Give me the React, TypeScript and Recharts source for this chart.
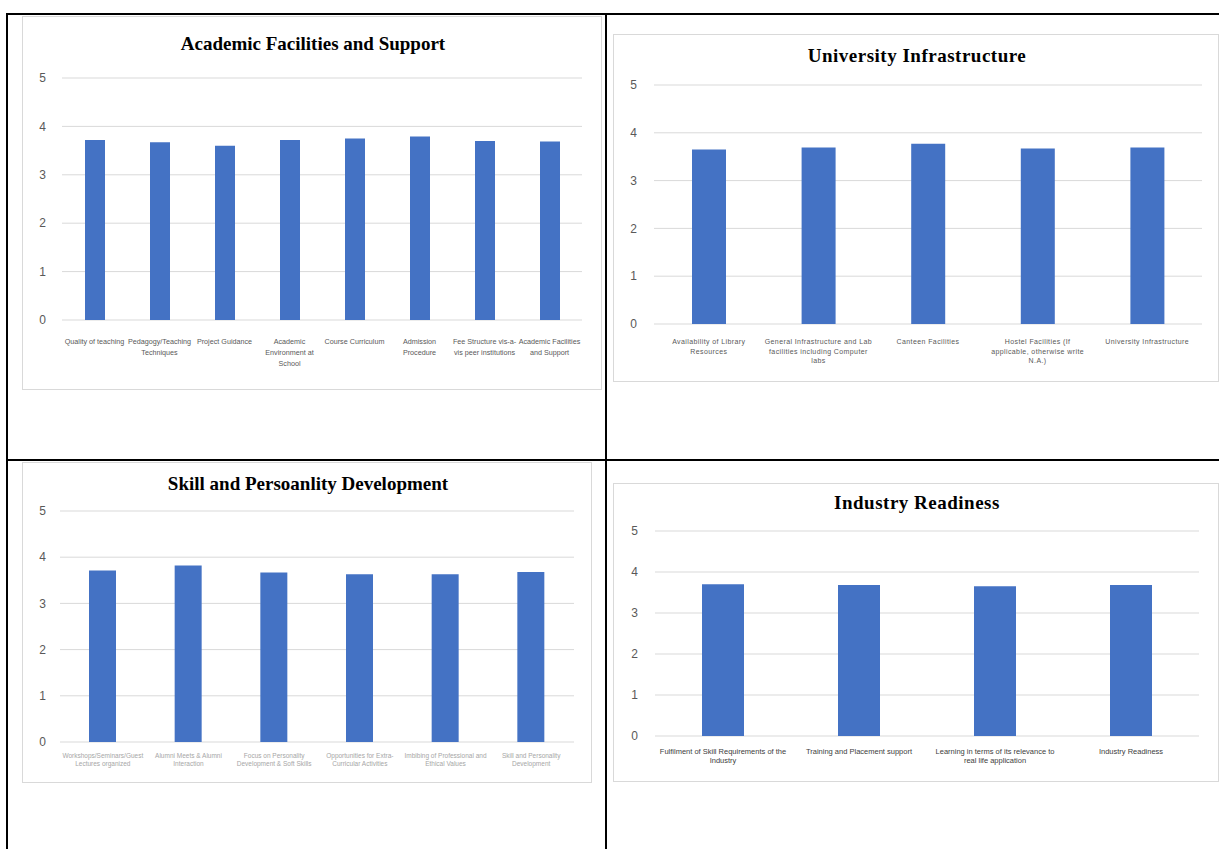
import React from 'react';
import { BarChart, Bar, XAxis, YAxis, CartesianGrid } from 'recharts';

// Academic Facilities and Support
const academicLabels = [
  'Quality of teaching',
  'Pedagogy/Teaching\nTechniques',
  'Project Guidance',
  'Academic\nEnvironment at\nSchool',
  'Course Curriculum',
  'Admission\nProcedure',
  'Fee Structure vis-a-\nvis peer institutions',
  'Academic Facilities\nand Support',
];
const academicValues = [3.72, 3.67, 3.6, 3.72, 3.75, 3.79, 3.7, 3.69];

// University Infrastructure
const infraLabels = [
  'Availability of Library\nResources',
  'General Infrastructure and Lab\nfacilities including Computer\nlabs',
  'Canteen Facilities',
  'Hostel Facilities (If\napplicable, otherwise write\nN.A.)',
  'University Infrastructure',
];
const infraValues = [3.65, 3.69, 3.77, 3.67, 3.69];

// Skill and Persoanlity Development
const skillLabels = [
  'Workshops/Seminars/Guest\nLectures organized',
  'Alumni Meets & Alumni\nInteraction',
  'Focus on Personality\nDevelopment & Soft Skills',
  'Opportunities for Extra-\nCurricular Activities',
  'Imbibing of Professional and\nEthical Values',
  'Skill and Personality\nDevelopment',
];
const skillValues = [3.71, 3.82, 3.67, 3.63, 3.63, 3.68];

// Industry Readiness
const industryLabels = [
  'Fulfilment of Skill Requirements  of the\nIndustry',
  'Training and Placement support',
  'Learning in terms of its relevance to\nreal life application',
  'Industry Readiness',
];
const industryValues = [3.7, 3.68, 3.65, 3.68];

const yTicks = [0, 1, 2, 3, 4, 5];

const BAR = '#4472C4';
const GRID = '#d9d9d9';

type Box = {
  left: number; top: number; right: number; bottom: number;
  plotLeft: number; plotRight: number; y5: number; y0: number;
  titleY: number; titleSpacing: number; barSize: number; yLabelGap: number;
  labelSize: number; labelColor: string; labelLead: number; labelFirst: number; labelSpacing?: number;
};

const MiniChart = ({ title, labels, values, b }: { title: string; labels: string[]; values: number[]; b: Box }) => {
  const data = labels.map((name, i) => ({ name, value: values[i] }));
  const w = b.right - b.left;
  const h = b.bottom - b.top;
  const yAxisW = 20;
  const xAxisH = b.bottom - b.y0;

  const XTick = (props: any) => {
    const { x, y, payload } = props;
    const lines = String(payload.value).split('\n');
    return (
      <text x={x} y={y + b.labelFirst} textAnchor="middle" fontSize={b.labelSize} fill={b.labelColor}
        fontFamily="Liberation Sans, Arial, sans-serif" letterSpacing={b.labelSpacing ?? 0}>
        {lines.map((l, i) => (
          <tspan key={i} x={x} dy={i === 0 ? 0 : b.labelLead}>{l}</tspan>
        ))}
      </text>
    );
  };

  return (
    <div style={{ position: 'absolute', left: b.left, top: b.top, width: w, height: h, background: '#fff', border: '1px solid #d9d9d9', boxSizing: 'border-box' }}>
      <div style={{ position: 'absolute', left: 0, width: w, top: b.titleY - b.top - 13, textAlign: 'center', fontFamily: 'Liberation Serif, Times New Roman, serif', fontWeight: 'bold', fontSize: 19, letterSpacing: b.titleSpacing, color: '#000', lineHeight: '24px' }}>
        {title}
      </div>
      <div style={{ position: 'absolute', left: -1, top: -1 }}>
        <BarChart
          width={w}
          height={h}
          data={data}
          margin={{ top: b.y5 - b.top, bottom: 0, left: b.plotLeft - b.left - yAxisW, right: b.right - b.plotRight }}
        >
          <CartesianGrid vertical={false} stroke={GRID} />
          <XAxis dataKey="name" axisLine={false} tickLine={false} tickSize={0} tickMargin={0} height={xAxisH} interval={0} tick={<XTick />} />
          <YAxis domain={[0, 5]} ticks={yTicks} axisLine={false} tickLine={false} tickSize={0} tickMargin={b.yLabelGap} width={yAxisW}
            tick={{ fontSize: 12, fill: '#595959', fontFamily: 'Liberation Sans, Arial, sans-serif' }} />
          <Bar dataKey="value" fill={BAR} barSize={b.barSize} isAnimationActive={false} />
        </BarChart>
      </div>
    </div>
  );
};

const line = (l: number, t: number, w: number, h: number) => (
  <div style={{ position: 'absolute', left: l, top: t, width: w, height: h, background: '#000' }} />
);

export default function App() {
  return (
    <div style={{ position: 'absolute', left: 0, top: 0, width: 1219, height: 849, background: '#fff', overflow: 'hidden' }}>
      {line(6, 13, 1213, 2)}
      {line(6, 13, 2, 836)}
      {line(605, 13, 2, 836)}
      {line(6, 459, 1213, 2)}
      <MiniChart title="Academic Facilities and Support" labels={academicLabels} values={academicValues}
        b={{ left: 22, top: 16, right: 602, bottom: 390, plotLeft: 62, plotRight: 582, y5: 78, y0: 320, titleY: 44, titleSpacing: 0, barSize: 20, yLabelGap: 16,
          labelSize: 7.2, labelColor: '#595959', labelLead: 11, labelFirst: 24 }} />
      <MiniChart title="University Infrastructure" labels={infraLabels} values={infraValues}
        b={{ left: 613, top: 34, right: 1219, bottom: 382, plotLeft: 654, plotRight: 1202, y5: 85, y0: 324, titleY: 56, titleSpacing: 0.5, barSize: 34, yLabelGap: 17,
          labelSize: 7, labelColor: '#595959', labelLead: 9.5, labelFirst: 20, labelSpacing: 0.4 }} />
      <MiniChart title="Skill and Persoanlity Development" labels={skillLabels} values={skillValues}
        b={{ left: 22, top: 462, right: 592, bottom: 783, plotLeft: 60, plotRight: 574, y5: 511, y0: 742, titleY: 484, titleSpacing: 0, barSize: 27, yLabelGap: 14,
          labelSize: 6.5, labelColor: '#a6a6a6', labelLead: 8, labelFirst: 16 }} />
      <MiniChart title="Industry Readiness" labels={industryLabels} values={industryValues}
        b={{ left: 613, top: 483, right: 1219, bottom: 782, plotLeft: 655, plotRight: 1199, y5: 531, y0: 736, titleY: 503, titleSpacing: 0.5, barSize: 42, yLabelGap: 17,
          labelSize: 7.5, labelColor: '#404040', labelLead: 9, labelFirst: 18 }} />
    </div>
  );
}
